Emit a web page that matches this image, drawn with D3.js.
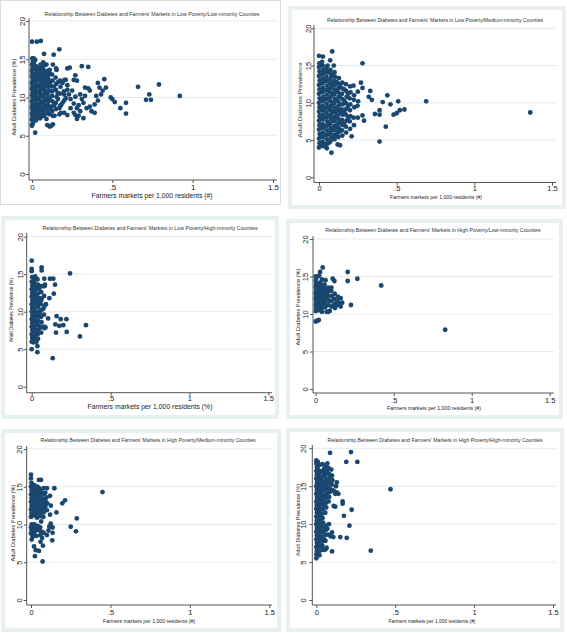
<!DOCTYPE html>
<html><head><meta charset="utf-8">
<script src="https://cdn.jsdelivr.net/npm/d3@7"></script>
<style>html,body{margin:0;padding:0;background:#fff;} svg{display:block;font-family:"Liberation Sans",Arial,sans-serif;}</style>
</head><body><svg id="c" width="567" height="633"></svg>
<script>
const xTicks=[0,0.5,1,1.5];
const yTicks=[0,5,10,15,20];
const titles=[
"Relationship Between Diabetes and Farmers' Markets in Low Poverty/Low-minority Counties",
"Relationship Between Diabetes and Farmers' Markets in Low Poverty/Medium-minority Counties",
"Relationship Between Diabetes and Farmers' Markets in Low Poverty/High-minority Counties",
"Relationship Between Diabetes and Farmers' Markets in High Poverty/Low-minority Counties",
"Relationship Between Diabetes and Farmers' Markets in High Poverty/Medium-minority Counties",
"Relationship Between Diabetes and Farmers' Markets in High Poverty/High-minority Counties"];
const xTitles=["Farmers markets per 1,000 residents (#)","Farmers markets per 1,000 residents (#)","Farmers markets per 1,000 residents (%)","Farmers markets per 1,000 residents (#)","Farmers markets per 1,000 residents (#)","Farmers markets per 1,000 residents (#)"];
const yTitles=["Adult Diabetes Prevalence (%)","Adult Diabetes Prevalence","Adult Diabetes Prevalence (%)","Adult Diabetes Prevalence (%)","Adult Diabetes Prevalence (%)","Adult Diabetes Prevalence (%)"];

const p1=[[0,6.4],[0.005,6.6],[0,7.1],[0.003,7.5],[0,7.9],[0.004,8.3],[0,8.7],[0.003,9.1],[0,9.5],[0.005,9.9],[0,10.3],[0.004,10.7],[0,11.1],[0.003,11.5],[0,11.9],[0.005,12.3],[0,12.7],[0.003,13.1],[0,13.5],[0.004,13.9],[0,14.3],[0.006,14.7],[0.002,15.1],[0,17.3],
[0.025,7.0],[0.022,7.6],[0.027,8.1],[0.024,8.6],[0.026,9.1],[0.023,9.6],[0.025,10.1],[0.027,10.6],[0.022,11.1],[0.026,11.6],[0.024,12.1],[0.025,12.6],[0.023,13.1],[0.027,13.6],[0.024,14.1],[0.02,14.9],[0.03,17.3],[0.02,5.4],
[0.05,7.3],[0.048,7.8],[0.052,8.3],[0.049,8.8],[0.051,9.3],[0.047,9.8],[0.053,10.3],[0.05,10.8],[0.048,11.3],[0.052,11.8],[0.049,12.3],[0.051,12.8],[0.05,13.3],[0.047,13.8],[0.053,14.3],[0.055,17.4],
[0.075,7.6],[0.073,8.1],[0.077,8.6],[0.074,9.1],[0.076,9.6],[0.072,10.1],[0.078,10.6],[0.075,11.1],[0.073,11.6],[0.077,12.1],[0.074,12.6],[0.076,13.1],[0.072,13.6],[0.078,14.2],[0.075,15.7],
[0.1,7.9],[0.098,8.4],[0.102,8.9],[0.099,9.4],[0.101,9.9],[0.097,10.4],[0.103,10.9],[0.1,11.4],[0.098,11.9],[0.102,12.4],[0.099,12.9],[0.101,13.5],[0.095,6.4],
[0.125,8.2],[0.123,8.8],[0.127,9.5],[0.124,10.2],[0.126,10.8],[0.122,11.5],[0.128,12.2],[0.125,13.0],[0.12,6.3],[0.13,14.3],[0.135,15.6],
[0.15,8.5],[0.148,9.3],[0.152,10.1],[0.149,11.0],[0.151,11.8],[0.147,12.6],[0.153,13.6],[0.14,7.6],
[0.175,8.9],[0.173,10.5],[0.177,11.4],[0.174,12.2],[0.17,7.8],[0.17,16.3],
[0.2,9.6],[0.198,10.8],[0.202,12.3],[0.2,8.0],
[0.01,15.1],[0.07,14.6],[0.09,14.3],[0.15,13.8],[0.11,13.6],[0.22,13.8],[0.235,13.9],[0.31,14.1],[0.35,14.0],[0.27,12.9],[0.26,12.3],[0.28,12.2],[0.21,12.3],[0.19,11.9],[0.22,11.6],[0.33,11.3],[0.35,11.2],[0.36,10.9],[0.3,10.4],[0.31,9.8],[0.32,9.3],[0.41,11.9],[0.42,11.3],[0.44,10.9],[0.43,10.4],[0.4,10.2],[0.41,9.6],[0.36,8.8],[0.34,8.6],[0.37,8.2],[0.39,8.0],[0.39,9.1],[0.28,8.6],[0.3,8.2],[0.29,7.6],[0.27,7.7],[0.26,8.0],[0.24,8.6],[0.22,7.7],[0.18,8.0],[0.17,8.6],[0.19,9.3],[0.21,9.9],[0.23,10.4],[0.24,9.8],[0.26,9.2],[0.13,7.6],[0.11,7.8],[0.09,7.2],[0.06,7.7],[0.05,7.3],[0.45,12.4],[0.46,11.3],[0.49,10.0],[0.5,9.8],[0.515,9.4],[0.55,8.6],[0.585,9.3],[0.585,7.9],[0.66,11.4],[0.71,9.7],[0.74,9.7],[0.73,10.4],[0.79,11.7],[0.92,10.2],[0.11,6.2],[0.13,6.5],[0,6.3],[0.25,10.9],[0.27,10.1],[0.33,10.2],[0.2,10.4],[0.22,11.0],[0.18,9.0],[0.16,10.6],[0.29,9.0],[0.32,7.3],[0.28,7.2]];
const f1=[[0.012,7.3],[0.012,8.1],[0.012,8.9],[0.012,9.7],[0.012,10.5],[0.012,11.3],[0.012,12.1],[0.012,12.9],[0.012,13.7],[0.012,14.5],
[0.037,7.5],[0.037,8.3],[0.037,9.1],[0.037,9.9],[0.037,10.7],[0.037,11.5],[0.037,12.3],[0.037,13.1],[0.037,13.9],
[0.062,7.6],[0.062,8.5],[0.062,9.4],[0.062,10.3],[0.062,11.2],[0.062,12.1],[0.062,13.0],[0.062,13.9],
[0.087,8.0],[0.087,8.9],[0.087,9.8],[0.087,10.7],[0.087,11.6],[0.087,12.5],[0.087,13.3],
[0.112,8.5],[0.112,9.7],[0.112,10.9],[0.112,12.0],[0.112,13.1],[0.137,9.0],[0.137,11.4],[0.162,9.8],[0.162,12.0]];

const p2=[[0,4.0],[0.003,4.6],[0,5.2],[0.004,5.8],[0,6.4],[0.003,7.0],[0,7.6],[0.004,8.2],[0,8.8],[0.003,9.4],[0,10.0],[0.004,10.6],[0,11.2],[0.003,11.8],[0,12.4],[0.004,13.0],[0,13.6],[0.003,14.2],[0,14.8],[0.002,15.3],[0,16.3],
[0.025,4.2],[0.023,4.8],[0.027,5.4],[0.024,6.0],[0.026,6.6],[0.022,7.2],[0.027,7.8],[0.024,8.4],[0.026,9.0],[0.023,9.6],[0.025,10.2],[0.027,10.8],[0.022,11.4],[0.026,12.0],[0.024,12.6],[0.025,13.2],[0.023,13.8],[0.027,14.4],[0.024,15.0],[0.02,15.5],[0.025,16.2],
[0.05,3.9],[0.048,4.5],[0.052,5.1],[0.049,5.7],[0.051,6.3],[0.047,6.9],[0.053,7.5],[0.05,8.1],[0.048,8.7],[0.052,9.3],[0.049,9.9],[0.051,10.5],[0.05,11.1],[0.047,11.7],[0.053,12.3],[0.05,12.9],[0.048,13.5],[0.052,14.1],[0.049,14.7],[0.055,15.0],
[0.08,3.3],[0.073,4.8],[0.077,5.4],[0.074,6.0],[0.076,6.6],[0.072,7.2],[0.078,7.8],[0.075,8.4],[0.073,9.0],[0.077,9.6],[0.074,10.2],[0.076,10.8],[0.072,11.4],[0.078,12.0],[0.075,12.6],[0.073,13.2],[0.077,13.8],[0.074,14.4],[0.072,15.7],[0.085,16.9],
[0.12,4.4],[0.1,5.1],[0.098,5.7],[0.102,6.3],[0.099,6.9],[0.101,7.5],[0.097,8.1],[0.103,8.7],[0.1,9.3],[0.098,9.9],[0.102,10.5],[0.099,11.1],[0.101,11.7],[0.1,12.3],[0.097,12.9],[0.103,13.5],[0.1,14.1],[0.095,15.0],
[0.125,5.4],[0.123,6.0],[0.127,6.6],[0.124,7.2],[0.126,7.8],[0.122,8.4],[0.128,9.0],[0.125,9.6],[0.123,10.2],[0.127,10.8],[0.124,11.4],[0.126,12.0],[0.122,12.6],[0.128,13.3],
[0.15,5.6],[0.148,6.3],[0.152,7.0],[0.149,7.7],[0.151,8.4],[0.147,9.1],[0.153,9.8],[0.15,10.5],[0.148,11.2],[0.152,11.9],[0.149,12.7],
[0.175,6.0],[0.173,6.8],[0.177,7.6],[0.174,8.4],[0.176,9.2],[0.172,10.0],[0.178,10.8],[0.175,11.6],[0.173,12.5],
[0.21,5.5],[0.2,6.5],[0.198,7.5],[0.202,8.2],[0.199,9.0],[0.201,9.8],[0.197,10.6],[0.203,11.4],[0.2,12.2],
[0.225,7.0],[0.223,8.0],[0.227,9.4],[0.224,10.4],[0.226,11.0],[0.222,12.3],
[0.25,8.0],[0.248,9.6],[0.252,10.2],[0.25,11.5],[0.27,12.7],
[1.36,8.7],[0.69,10.2],[0.55,9.1],[0.52,9.0],[0.5,8.6],[0.48,8.4],[0.51,10.2],[0.46,9.8],[0.44,11.0],[0.41,10.1],[0.39,9.0],[0.39,8.4],[0.36,8.5],[0.43,6.8],[0.39,4.8],[0.33,11.6],[0.32,10.8],[0.34,10.4],[0.28,15.3],[0.28,12.0],[0.28,8.3],[0.29,7.6],[0.04,4.2],[0.135,4.3]];
const f2=[[0.012,4.3],[0.012,5.5],[0.012,6.7],[0.012,7.9],[0.012,9.1],[0.012,10.3],[0.012,11.5],[0.012,12.7],[0.012,13.9],[0.012,15.1],
[0.037,4.5],[0.037,5.7],[0.037,6.9],[0.037,8.1],[0.037,9.3],[0.037,10.5],[0.037,11.7],[0.037,12.9],[0.037,14.1],
[0.062,4.6],[0.062,5.8],[0.062,7.0],[0.062,8.2],[0.062,9.4],[0.062,10.6],[0.062,11.8],[0.062,13.0],[0.062,14.2],
[0.087,5.2],[0.087,6.4],[0.087,7.6],[0.087,8.8],[0.087,10.0],[0.087,11.2],[0.087,12.4],[0.087,13.6],
[0.112,5.6],[0.112,6.8],[0.112,8.0],[0.112,9.2],[0.112,10.4],[0.112,11.6],[0.112,12.8],
[0.137,6.2],[0.137,7.4],[0.137,8.6],[0.137,9.8],[0.137,11.0],[0.137,12.2],
[0.162,7.2],[0.162,8.8],[0.162,10.3],[0.162,11.8],[0.187,8.0],[0.187,9.6],[0.187,11.2]];

const p3=[[0,6.0],[0.003,6.5],[0,7.0],[0.004,7.5],[0,8.0],[0.003,8.5],[0,9.0],[0.004,9.5],[0,10.0],[0.003,10.5],[0,11.0],[0.004,11.5],[0,12.0],[0.003,12.5],[0,13.0],[0.004,13.5],[0,14.0],[0.003,14.6],[0,15.4],[0,15.7],[0,16.8],
[0.02,6.2],[0.018,6.7],[0.022,7.2],[0.019,7.7],[0.021,8.2],[0.017,8.7],[0.023,9.2],[0.02,9.7],[0.018,10.2],[0.022,10.7],[0.019,11.2],[0.021,11.7],[0.02,12.2],[0.017,12.7],[0.023,13.2],[0.02,13.7],[0.018,14.2],[0.022,14.7],[0.012,5.9],[0.03,6.0],
[0.04,6.4],[0.038,7.0],[0.042,7.6],[0.039,8.2],[0.041,8.8],[0.037,9.4],[0.043,10.0],[0.04,10.6],[0.038,11.2],[0.042,11.8],[0.039,12.4],[0.041,13.0],[0.04,13.6],[0.037,14.3],
[0.06,7.2],[0.058,8.0],[0.062,8.6],[0.059,9.3],[0.061,10.2],[0.057,11.0],[0.063,11.8],[0.06,12.6],[0.058,13.4],
[0.08,7.8],[0.078,9.6],[0.082,10.8],[0.079,12.1],[0.081,13.4],[0.08,14.4],
[0.063,15.9],[0.063,15.5],[0.116,14.4],[0.137,14.4],[0.148,13.6],[0.14,12.4],[0.112,11.8],[0.084,13.6],[0.07,13.4],[0.074,10.4],[0.158,9.4],[0.104,9.1],[0.184,9.0],[0.22,9.0],[0.2,8.2],[0.175,8.1],[0.15,8.3],[0.154,7.2],[0.222,7.3],[0.306,6.7],[0.344,8.2],[0.078,8.0],[0.088,7.9],[0.036,5.4],[0.036,4.6],[0,5.0],[0.133,3.8],[0.243,15.1],[0.09,11.0],[0.06,11.5]];
const f3=[[0.01,6.8],[0.01,8.0],[0.01,9.2],[0.01,10.4],[0.01,11.6],[0.01,12.8],[0.01,14.0],[0.03,7.3],[0.03,8.5],[0.03,9.7],[0.03,10.9],[0.03,12.1],[0.03,13.3],[0.03,14.4],[0.05,7.8],[0.05,9.8],[0.05,11.6],[0.05,13.2]];

const p4=[[0,9.0],[0,10.4],[0.003,10.8],[0,11.2],[0.004,11.6],[0,12.0],[0.003,12.4],[0,12.8],[0.004,13.2],[0,13.6],[0.003,14.0],[0,14.4],[0.004,14.8],[0,15.0],
[0.02,9.2],[0.018,10.5],[0.022,11.0],[0.019,11.5],[0.021,12.0],[0.017,12.5],[0.023,13.0],[0.02,13.5],[0.018,14.0],[0.022,15.1],[0.028,15.6],[0.01,9.1],
[0.04,10.3],[0.038,10.8],[0.042,11.3],[0.039,11.8],[0.041,12.3],[0.037,12.8],[0.043,13.3],[0.04,13.8],[0.04,14.6],[0.045,16.2],
[0.06,10.9],[0.058,11.5],[0.062,12.1],[0.059,12.7],[0.061,13.3],[0.057,13.9],[0.063,14.5],
[0.08,10.3],[0.078,11.2],[0.082,11.8],[0.079,12.4],[0.081,13.0],[0.08,13.5],
[0.1,11.0],[0.098,11.7],[0.102,12.4],[0.099,13.1],[0.101,13.5],[0.109,14.7],
[0.12,11.3],[0.118,12.0],[0.122,12.7],[0.124,10.8],[0.12,14.4],
[0.14,11.2],[0.138,11.7],[0.142,12.3],[0.15,11.4],
[0.16,12.1],[0.17,11.5],[0.16,11.0],
[0.205,15.6],[0.205,14.4],[0.267,14.7],[0.226,11.2],[0.42,13.8],[0.83,7.9],[0.07,10.3],[0.09,10.4]];
const f4=[[0.01,11.0],[0.01,12.2],[0.01,13.4],[0.03,11.2],[0.03,12.6],[0.03,14.2],[0.05,11.6],[0.05,12.9],[0.07,12.6]];

const p5=[[0,16.6],[0,16.1],[0.003,15.5],[0,15.0],[0.004,14.5],[0,14.0],[0.003,13.5],[0,13.0],[0.004,12.5],[0,12.0],[0.003,11.5],[0,11.0],[0.004,10.0],[0,9.6],[0.003,9.2],[0,8.8],[0.004,8.0],
[0.02,15.2],[0.018,14.7],[0.022,14.2],[0.019,13.7],[0.021,13.2],[0.017,12.7],[0.023,12.2],[0.02,11.7],[0.018,11.2],[0.022,10.0],[0.019,9.5],[0.021,9.0],[0.02,8.5],[0.019,7.1],[0.025,5.8],
[0.04,15.0],[0.038,14.5],[0.042,14.0],[0.039,13.5],[0.041,13.0],[0.037,12.5],[0.043,12.0],[0.04,11.5],[0.038,10.9],[0.042,9.8],[0.039,9.3],[0.036,8.5],[0.03,6.6],[0.05,6.5],
[0.06,14.6],[0.058,14.1],[0.062,13.6],[0.059,13.1],[0.061,12.6],[0.057,12.1],[0.063,11.6],[0.06,11.1],[0.064,10.4],[0.058,9.6],[0.06,9.1],[0.06,8.6],[0.06,7.7],[0.063,15.9],[0.05,15.9],
[0.08,14.8],[0.078,14.0],[0.082,13.4],[0.079,12.8],[0.081,12.2],[0.08,11.6],[0.078,11.0],[0.08,8.9],[0.075,7.2],[0.073,5.1],
[0.1,14.8],[0.098,13.6],[0.102,12.8],[0.1,11.9],[0.1,8.6],[0.11,9.2],[0.12,11.3],
[0.45,14.3],[0.147,14.8],[0.214,13.2],[0.197,12.8],[0.16,11.6],[0.288,10.8],[0.25,9.7],[0.283,9.1],[0.136,8.9],[0.134,7.9],[0.115,9.7],[0.124,10.1],[0.136,9.6],[0.125,12.5],[0.12,13.8]];
const f5=[[0.01,11.2],[0.01,12.2],[0.01,13.2],[0.01,14.2],[0.01,15.2],[0.01,9.3],[0.01,8.4],[0.03,11.4],[0.03,12.4],[0.03,13.4],[0.03,14.4],[0.03,9.2],[0.05,11.8],[0.05,12.8],[0.05,13.8],[0.05,14.8],[0.05,9.4],[0.07,12.0],[0.07,13.0],[0.07,14.2],[0.07,9.0],[0.07,8.2],[0.09,12.4],[0.09,13.2],[0.09,14.2]];

const p6=[[0,5.5],[0,6.0],[0.003,6.5],[0,7.0],[0.004,7.5],[0,8.0],[0.003,8.5],[0,9.0],[0.004,9.5],[0,10.0],[0.003,10.5],[0,11.0],[0.004,11.5],[0,12.0],[0.003,12.5],[0,13.0],[0.004,13.5],[0,14.0],[0.003,14.5],[0,15.0],[0.004,15.5],[0,16.0],[0.003,16.5],[0,17.0],[0.004,17.5],[0,18.0],[0,18.4],
[0.02,5.9],[0.018,6.4],[0.022,7.0],[0.019,7.5],[0.021,8.0],[0.017,8.5],[0.023,9.0],[0.02,9.5],[0.018,10.0],[0.022,10.5],[0.019,11.0],[0.021,11.5],[0.02,12.0],[0.017,12.5],[0.023,13.0],[0.02,13.5],[0.018,14.0],[0.022,14.5],[0.019,15.0],[0.021,15.5],[0.02,16.0],[0.017,16.5],[0.023,17.0],[0.02,17.8],
[0.04,6.6],[0.038,7.2],[0.042,7.8],[0.039,8.4],[0.041,9.0],[0.037,9.6],[0.043,10.2],[0.04,10.8],[0.038,11.4],[0.042,12.0],[0.039,12.6],[0.041,13.2],[0.04,13.8],[0.037,14.4],[0.043,15.0],[0.04,15.6],[0.038,16.2],[0.042,16.8],[0.04,17.9],
[0.06,6.7],[0.058,7.8],[0.062,8.6],[0.059,9.2],[0.061,9.8],[0.057,11.5],[0.063,12.2],[0.06,12.8],[0.058,13.4],[0.062,14.0],[0.059,14.6],[0.061,15.2],[0.06,15.8],[0.057,16.4],[0.063,17.0],[0.06,17.6],
[0.08,8.6],[0.078,13.0],[0.082,13.6],[0.079,14.2],[0.081,14.8],[0.08,15.4],[0.078,16.0],[0.082,16.6],[0.077,17.4],[0.07,18.0],
[0.1,14.5],[0.098,15.2],[0.102,15.8],[0.1,16.4],[0.095,17.2],[0.087,19.4],
[0.12,14.0],[0.125,15.0],[0.13,15.5],
[0.47,14.6],[0.345,6.5],[0.22,19.5],[0.19,18.2],[0.26,18.2],[0.224,11.9],[0.175,11.1],[0.21,9.8],[0.193,8.2],[0.152,8.3],[0.108,8.3],[0.1,8.9],[0.09,8.4],[0.1,6.4],[0.05,6.6],[0.065,6.9],[0.167,13.0],[0.167,12.7],[0.13,14.2],[0.11,14.4],[0.11,12.4],[0.12,12.3],[0.14,14.0],[0.08,10.0],[0.07,9.4]];
const f6=[[0.01,6.2],[0.01,7.2],[0.01,8.2],[0.01,9.2],[0.01,10.2],[0.01,11.2],[0.01,12.2],[0.01,13.2],[0.01,14.2],[0.01,15.2],[0.01,16.2],[0.01,17.2],[0.01,18.2],
[0.03,7.0],[0.03,8.0],[0.03,9.0],[0.03,10.0],[0.03,11.0],[0.03,12.0],[0.03,13.0],[0.03,14.0],[0.03,15.0],[0.03,16.0],[0.03,17.0],
[0.05,8.0],[0.05,9.5],[0.05,12.5],[0.05,13.5],[0.05,14.5],[0.05,15.5],[0.05,16.5],[0.05,17.3],
[0.07,13.7],[0.07,14.8],[0.07,15.9],[0.07,16.9],[0.09,14.3],[0.09,15.5],[0.09,16.2]];

const series=[p1.concat(f1),p2.concat(f2),p3.concat(f3),p4.concat(f4),p5.concat(f5),p6.concat(f6)];

// layout of each panel (pixel geometry only)
const layouts=[
 {fx:0,fy:0,fw:281,fh:205,band:false,ax:29,ab:180,x0:32,x1:273,y0:174,y1:21,right:277,top:18,tx:152,ty:15.5,tl:215,xlx:152,xly:198,xll:121,xlf:7.5,ylx:15.5,yly:97,yll:77,yd:4.5,xpad:4,tf:8},
 {fx:288,fy:6,fw:278,fh:203,band:true,ax:314,ab:182.5,x0:319,x1:552,y0:177.3,y1:28.3,right:556,top:25,tx:435,ty:22,tl:216,xlx:436,xly:198.8,xll:92,xlf:5.5,ylx:302,yly:100,yll:75,yd:3.5,xpad:3.5,tf:7.5},
 {fx:1,fy:216,fw:278,fh:203,band:true,ax:26.7,ab:392.7,x0:31.7,x1:268.3,y0:386.7,y1:236.7,right:272,top:233,tx:150,ty:230.3,tl:215,xlx:150,xly:409.3,xll:125,xlf:7.5,ylx:12.5,yly:310,yll:64,yd:3.7,xpad:3.3,tf:7.5},
 {fx:286,fy:219,fw:277,fh:200,band:true,ax:313,ab:393,x0:315.7,x1:549.7,y0:389,y1:239,right:553.7,top:236,tx:433,ty:232,tl:215,xlx:434,xly:409.5,xll:94,xlf:5.5,ylx:300,yly:307,yll:77,yd:5.5,xpad:5,tf:7.5},
 {fx:1,fy:429,fw:280,fh:203,band:true,ax:26.7,ab:605,x0:31,x1:269.3,y0:600,y1:449,right:272,top:446,tx:148,ty:442,tl:215,xlx:149,xly:622.5,xll:92,xlf:5.5,ylx:15,yly:523,yll:77,yd:4.5,xpad:5,tf:7.5},
 {fx:286,fy:428,fw:278,fh:204,band:true,ax:312.3,ab:605,x0:316.3,x1:553,y0:600,y1:448.3,right:556,top:445,tx:435,ty:442,tl:215,xlx:432,xly:622.5,xll:87,xlf:5.5,ylx:300,yly:520,yll:72,yd:6,xpad:5,tf:7.5}
];

const svg=d3.select('#c');
const MARK='#1a476f', BAND='#e8f0f2', GRID='#e2ebee', AXIS='#555', TXT='#222';

layouts.forEach((L,i)=>{
  const g=svg.append('g');
  const x=d3.scaleLinear().domain([0,1.5]).range([L.x0,L.x1]);
  const y=d3.scaleLinear().domain([0,20]).range([L.y0,L.y1]);
  if(L.band){
    g.append('rect').attr('x',L.fx).attr('y',L.fy).attr('width',L.fw).attr('height',L.fh).attr('fill',BAND);
    g.append('rect').attr('x',L.fx+4).attr('y',L.fy+4).attr('width',L.fw-8).attr('height',L.fh-8).attr('fill','#fff');
  } else {
    g.append('rect').attr('x',L.fx+0.5).attr('y',L.fy+0.5).attr('width',L.fw-1).attr('height',L.fh-1).attr('fill','#fff').attr('stroke','#d6dee1');
  }
  g.selectAll('line.grid').data(yTicks.filter(t=>t>0)).join('line').attr('class','grid')
    .attr('x1',L.ax).attr('x2',L.right).attr('y1',d=>y(d)).attr('y2',d=>y(d))
    .attr('stroke',GRID).attr('stroke-width',1);
  g.append('g').selectAll('circle').data(series[i]).join('circle')
    .attr('cx',d=>x(d[0])).attr('cy',d=>y(d[1])).attr('r',2.4).attr('fill',MARK);
  g.append('line').attr('x1',L.ax).attr('x2',L.ax).attr('y1',L.top).attr('y2',L.ab).attr('stroke',AXIS);
  g.append('line').attr('x1',L.ax).attr('x2',L.right).attr('y1',L.ab).attr('y2',L.ab).attr('stroke',AXIS);
  const gy=g.append('g').attr('transform',`translate(${L.ax},0)`)
    .call(d3.axisLeft(y).tickValues(yTicks).tickSize(3).tickFormat(d3.format('d')));
  gy.select('.domain').remove();
  gy.selectAll('line').attr('stroke',AXIS);
  gy.selectAll('text').attr('transform','rotate(-90)').attr('x',0).attr('y',-L.yd).attr('dy',0)
    .attr('text-anchor','middle').attr('fill',TXT).style('font-size',L.tf+'px').style('font-family','Liberation Sans, Arial, sans-serif');
  const gx=g.append('g').attr('transform',`translate(0,${L.ab})`)
    .call(d3.axisBottom(x).tickValues(xTicks).tickSize(3).tickPadding(L.xpad-3)
      .tickFormat(d=>d===0?'0':String(d).replace(/^0/,'')));
  gx.select('.domain').remove();
  gx.selectAll('line').attr('stroke',AXIS);
  gx.selectAll('text').attr('fill',TXT).style('font-size',L.tf+'px').style('font-family','Liberation Sans, Arial, sans-serif');
  g.append('text').attr('x',L.tx).attr('y',L.ty).attr('text-anchor','middle').attr('fill','#333')
    .style('font-size','5.4px').attr('textLength',L.tl).attr('lengthAdjust','spacingAndGlyphs').text(titles[i]);
  g.append('text').attr('x',L.xlx).attr('y',L.xly).attr('text-anchor','middle').attr('fill',TXT)
    .style('font-size',L.xlf+'px').attr('textLength',L.xll).attr('lengthAdjust','spacingAndGlyphs').text(xTitles[i]);
  g.append('text').attr('transform',`translate(${L.ylx},${L.yly}) rotate(-90)`).attr('text-anchor','middle').attr('fill',TXT)
    .style('font-size','5.8px').attr('textLength',L.yll).attr('lengthAdjust','spacingAndGlyphs').text(yTitles[i]);
});
</script>
</body></html>
